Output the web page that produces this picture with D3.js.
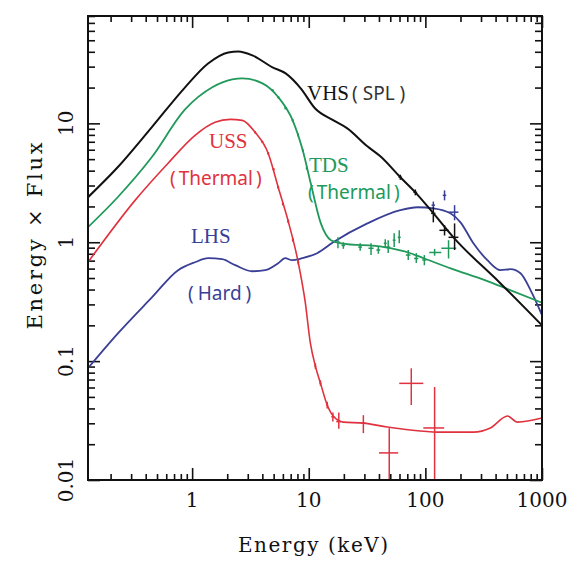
<!DOCTYPE html>
<html>
<head>
<meta charset="utf-8">
<script src="https://cdn.jsdelivr.net/npm/d3@7/dist/d3.min.js"></script>
<style>
body { margin: 0; background: #fff; }
</style>
</head>
<body>
<script>
// axis ticks
const energyTicks = [1, 10, 100, 1000];
const fluxTicks = [0.01, 0.1, 1, 10];
const fluxTickLabels = ['0.01', '0.1', '1', '10'];

// model curves (energy in keV, energy x flux)
const vhsEnergy = [0.128, 0.23, 0.45, 0.87, 1.37, 2.04, 2.49, 3.29, 4.89, 6.34, 8.6, 11.3, 16.3, 21.4, 31.8, 41.1, 61.0, 82.0, 115, 174, 441, 1000];
const vhsFlux   = [2.39, 4.27, 9.25, 20.1, 31.9, 39.5, 40.3, 37.3, 29.6, 26.3, 19.5, 13.4, 10.6, 9.08, 6.41, 5.28, 3.52, 2.63, 1.79, 1.10, 0.45, 0.20];

const tdsEnergy = [0.128, 0.23, 0.45, 0.87, 1.49, 2.21, 2.70, 4.01, 5.51, 7.28, 8.88, 10.4, 12.7, 15.5, 18.9, 44.3, 71.3, 98, 167, 323, 520, 1000];
const tdsFlux   = [1.34, 2.39, 5.18, 13.1, 20.1, 23.4, 23.9, 21.7, 16.5, 10.6, 5.93, 3.13, 1.44, 1.04, 0.98, 0.91, 0.82, 0.73, 0.60, 0.48, 0.40, 0.31];

const ussEnergy = [0.128, 0.324, 0.622, 1.06, 1.57, 2.12, 2.69, 3.47, 4.49, 5.47, 6.67, 8.12, 9.33, 10.3, 11.4, 12.6, 14.4, 16.2, 19.8, 29.4, 47.2, 74.3, 127, 258, 361, 506, 617, 1000];
const ussFlux   = [0.679, 2.25, 4.62, 7.93, 10.2, 10.8, 10.6, 8.40, 5.60, 2.90, 1.50, 0.679, 0.313, 0.144, 0.0908, 0.0653, 0.0427, 0.0345, 0.0307, 0.0301, 0.0279, 0.0263, 0.0253, 0.0253, 0.0274, 0.0345, 0.0307, 0.0332];

const lhsEnergy = [0.128, 0.232, 0.454, 0.758, 1.06, 1.37, 1.81, 2.34, 3.27, 4.24, 5.47, 6.28, 7.21, 8.78, 11.8, 16.2, 31.8, 61.0, 85.4, 117, 164, 200, 258, 340, 441, 537, 654, 797, 1000];
const lhsFlux   = [0.0873, 0.172, 0.345, 0.582, 0.679, 0.734, 0.720, 0.641, 0.570, 0.582, 0.667, 0.734, 0.706, 0.734, 0.809, 1.0, 1.44, 1.86, 1.97, 1.93, 1.75, 1.47, 0.98, 0.706, 0.582, 0.593, 0.548, 0.396, 0.244];

// data points: [energy, flux, energy low, energy high, flux low, flux high]
const vhsPoints = [
    [61, 3.52, 59, 63, 3.35, 3.7],
    [82, 2.63, 79, 85, 2.48, 2.78],
    [117, 1.75, 112, 122, 1.47, 1.97],
    [146, 1.26, 132, 158, 1.14, 1.39],
    [178, 1.10, 158, 192, 0.86, 1.44],
];
const tdsPoints = [
    [4.9, 19.0, 4.8, 5.0, 18.6, 19.4],
    [5.5, 16.5, 5.4, 5.6, 16.1, 16.9],
    [6.3, 13.5, 6.18, 6.42, 13.1, 13.9],
    [7.28, 10.6, 7.14, 7.42, 10.3, 10.9],
    [8.1, 8.0, 7.95, 8.25, 7.75, 8.25],
    [8.88, 5.93, 8.72, 9.04, 5.75, 6.1],
    [9.6, 4.2, 9.43, 9.77, 4.07, 4.33],
    [17.8, 1.0, 17.0, 18.6, 0.89, 1.10],
    [19.8, 0.94, 19.1, 20.5, 0.88, 1.0],
    [27.6, 0.91, 26.6, 28.6, 0.85, 0.98],
    [34.2, 0.89, 32.5, 36, 0.78, 0.98],
    [39.5, 0.86, 38, 41, 0.80, 0.93],
    [45.3, 0.98, 44, 46.6, 0.90, 1.06],
    [48, 0.91, 46, 50, 0.81, 1.04],
    [54, 1.04, 52.5, 55.5, 0.91, 1.19],
    [59.7, 1.10, 58, 61.5, 0.98, 1.26],
    [71.3, 0.78, 68, 74.5, 0.71, 0.86],
    [83.6, 0.73, 80, 87, 0.67, 0.81],
    [98, 0.71, 94, 102, 0.64, 0.78],
    [120, 0.82, 108, 137, 0.77, 0.88],
    [158, 0.89, 137, 184, 0.73, 1.04],
];
const ussPoints = [
    [3.47, 8.40, 3.4, 3.54, 8.2, 8.6],
    [4.0, 7.0, 3.92, 4.08, 6.85, 7.15],
    [4.49, 5.6, 4.4, 4.58, 5.45, 5.75],
    [5.0, 4.1, 4.9, 5.1, 4.0, 4.2],
    [5.47, 2.9, 5.36, 5.58, 2.82, 2.98],
    [6.0, 2.1, 5.88, 6.12, 2.04, 2.16],
    [6.67, 1.5, 6.54, 6.8, 1.45, 1.55],
    [7.3, 1.05, 7.16, 7.44, 1.01, 1.09],
    [8.12, 0.68, 7.96, 8.28, 0.65, 0.71],
    [11.4, 0.0908, 11.2, 11.6, 0.086, 0.096],
    [12.6, 0.0653, 12.35, 12.85, 0.062, 0.069],
    [14.4, 0.0427, 14.1, 14.7, 0.040, 0.0455],
    [16.1, 0.034, 15.6, 16.6, 0.031, 0.037],
    [18.1, 0.031, 17.2, 19.0, 0.027, 0.037],
    [29.4, 0.0301, 28.1, 30.8, 0.0248, 0.0351],
    [49, 0.0169, 40, 58.5, 0.005, 0.0273],
    [75.7, 0.065, 59.7, 96, 0.0427, 0.087],
    [120, 0.0274, 96, 145, 0.005, 0.0605],
];
const lhsPoints = [
    [117, 2.05, 113, 121, 1.9, 2.2],
    [146, 2.48, 141, 151, 2.25, 2.73],
    [178, 1.79, 158, 192, 1.53, 2.05],
];

const serifFont = '"DejaVu Serif", serif';
const labelFont = '"Liberation Serif", serif';
const subFont = '"Noto Sans", sans-serif';

function plot(svg)
{
    const left = 88, right = 542, top = 16, bottom = 480;

    const scX = d3.scaleLog().domain([0.128, 1000]).range([left, right]);
    const scY = d3.scaleLog().domain([0.01, 80]).range([bottom, top]);

    svg.append('clipPath').attr('id', 'plotArea')
        .append('rect')
        .attr('x', left).attr('y', top)
        .attr('width', right - left).attr('height', bottom - top);

    // inward ticks on all four sides
    const minorX = scX.ticks().filter(v => !energyTicks.includes(v));
    const minorY = scY.ticks().filter(v => !fluxTicks.includes(v));

    function ticks(axisFn, scale, values, size, transform)
    {
        svg.append('g')
            .attr('transform', transform)
            .call(axisFn(scale).tickValues(values).tickSize(size).tickFormat(''))
            .call(g => g.select('.domain').remove())
            .call(g => g.selectAll('line').attr('stroke', '#111').attr('stroke-width', 1.6));
    }
    ticks(d3.axisBottom, scX, energyTicks, -12, `translate(0,${bottom})`);
    ticks(d3.axisBottom, scX, minorX, -6, `translate(0,${bottom})`);
    ticks(d3.axisTop, scX, energyTicks, -12, `translate(0,${top})`);
    ticks(d3.axisTop, scX, minorX, -6, `translate(0,${top})`);
    ticks(d3.axisLeft, scY, fluxTicks, -12, `translate(${left},0)`);
    ticks(d3.axisLeft, scY, minorY, -7, `translate(${left},0)`);
    ticks(d3.axisRight, scY, fluxTicks, -12, `translate(${right},0)`);
    ticks(d3.axisRight, scY, minorY, -7, `translate(${right},0)`);

    // tick labels
    svg.append('g').selectAll('text')
        .data(energyTicks).enter().append('text')
        .attr('x', d => scX(d))
        .attr('y', bottom + 27)
        .attr('text-anchor', 'middle')
        .attr('font-family', serifFont)
        .attr('font-size', 20)
        .attr('fill', '#111')
        .text(d => d);
    svg.append('g').selectAll('text')
        .data(fluxTicks).enter().append('text')
        .attr('transform', d => `translate(${left - 15},${scY(d)}) rotate(-90)`)
        .attr('text-anchor', 'middle')
        .attr('font-family', serifFont)
        .attr('font-size', 20)
        .attr('fill', '#111')
        .text((d, i) => fluxTickLabels[i]);

    // axis titles
    svg.append('text')
        .attr('x', 313).attr('y', 552)
        .attr('text-anchor', 'middle')
        .attr('font-family', serifFont)
        .attr('font-size', 20)
        .attr('textLength', 150)
        .attr('lengthAdjust', 'spacing')
        .attr('fill', '#111')
        .text('Energy (keV)');
    svg.append('text')
        .attr('transform', 'translate(42,236) rotate(-90)')
        .attr('text-anchor', 'middle')
        .attr('font-family', serifFont)
        .attr('font-size', 21)
        .attr('textLength', 187)
        .attr('lengthAdjust', 'spacing')
        .attr('fill', '#111')
        .text('Energy × Flux');

    const plotArea = svg.append('g').attr('clip-path', 'url(#plotArea)');

    const lineMaker = d3.line()
        .curve(d3.curveMonotoneX)
        .x(d => scX(d[0]))
        .y(d => scY(d[1]));

    function drawSeries(energy, flux, points, colour, width)
    {
        const g = plotArea.append('g');
        g.append('path')
            .attr('d', lineMaker(d3.zip(energy, flux)))
            .attr('fill', 'none')
            .attr('stroke', colour)
            .attr('stroke-width', width)
            .attr('stroke-linejoin', 'round');
        const pts = g.selectAll('g.pt').data(points).enter().append('g').attr('class', 'pt');
        pts.append('line')
            .attr('x1', d => scX(d[2])).attr('x2', d => scX(d[3]))
            .attr('y1', d => scY(d[1])).attr('y2', d => scY(d[1]));
        pts.append('line')
            .attr('x1', d => scX(d[0])).attr('x2', d => scX(d[0]))
            .attr('y1', d => scY(d[4])).attr('y2', d => scY(d[5]));
        pts.selectAll('line').attr('stroke', colour).attr('stroke-width', 1.5);
    }

    const blue = '#3a3f96', green = '#20995a', red = '#e0323e', black = '#111';
    drawSeries(lhsEnergy, lhsFlux, lhsPoints, blue, 1.8);
    drawSeries(tdsEnergy, tdsFlux, tdsPoints, green, 1.8);
    drawSeries(ussEnergy, ussFlux, ussPoints, red, 1.6);
    drawSeries(vhsEnergy, vhsFlux, vhsPoints, black, 2);

    // frame
    svg.append('rect')
        .attr('x', left).attr('y', top)
        .attr('width', right - left).attr('height', bottom - top)
        .attr('fill', 'none')
        .attr('stroke', '#111')
        .attr('stroke-width', 2);

    // state labels: serif acronym, sans note in wide parentheses
    function name(x, y, text, colour)
    {
        svg.append('text').attr('x', x).attr('y', y)
            .attr('font-family', labelFont).attr('font-size', 21)
            .attr('fill', colour).text(text);
    }
    function note(x, y, word, gap, colour)
    {
        const t = svg.append('text').attr('x', x).attr('y', y)
            .attr('font-family', subFont).attr('font-size', 19)
            .attr('fill', colour);
        t.append('tspan').text('(');
        t.append('tspan').attr('dx', gap).text(word);
        t.append('tspan').attr('dx', gap).text(')');
    }
    name(307, 100, 'VHS', '#111');
    note(352, 100, 'SPL', 5, '#333');
    name(309, 172, 'TDS', green);
    note(308, 199, 'Thermal', 3, green);
    name(209, 148, 'USS', red);
    note(170, 185, 'Thermal', 3, red);
    name(191, 243, 'LHS', blue);
    note(188, 300, 'Hard', 4, blue);
}

function main()
{
    const svg = d3.select('body')
        .append('svg')
        .attr('width', 578)
        .attr('height', 562);
    plot(svg);
}

main();
</script>
</body>
</html>
